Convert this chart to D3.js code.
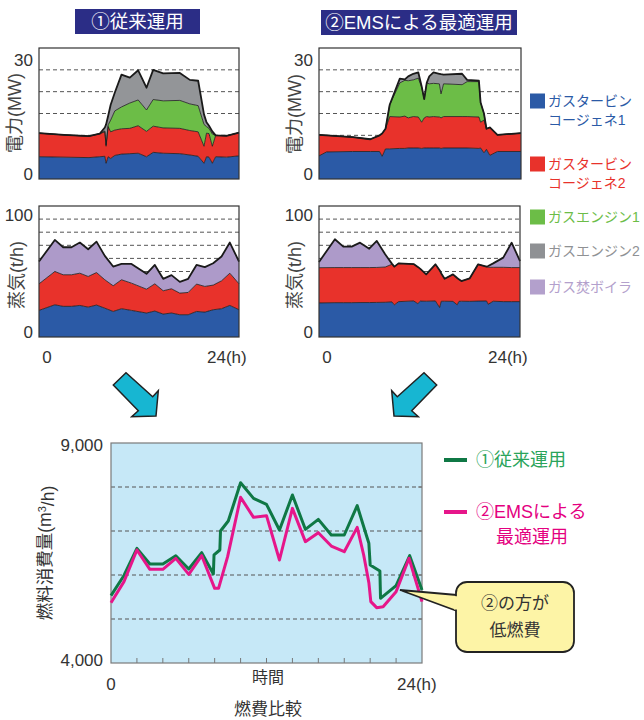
<!DOCTYPE html>
<html>
<head>
<meta charset="utf-8">
<script src="https://cdn.jsdelivr.net/npm/d3@7"></script>
<style>
  body { margin: 0; background: #fff; }
  svg { display: block; }
  text { font-family: 'Liberation Sans', 'Noto Sans CJK JP', sans-serif; }
</style>
</head>
<body>
<svg id="chart" width="644" height="720"></svg>
<script>
// ---- Power output (MW), conventional operation: layer thickness per hour point ----
const powerConvHours = [0, 3, 6, 7.3, 7.9, 8.05, 8.3, 8.6, 9.1, 9.9, 10.9, 11.9, 12.9, 13.7, 14.9, 16.9, 18.1, 19.1, 19.8, 20.1, 20.4, 20.8, 21.2, 22.5, 24];
const powerConvGT1 = [5.1, 5.0, 4.9, 5.1, 5.2, 3.6, 5.1, 4.7, 5.4, 5.7, 5.8, 5.9, 5.1, 6.1, 5.9, 5.8, 5.5, 5.2, 3.6, 5.1, 5.0, 3.6, 5.1, 5.0, 5.3];
const powerConvGT2 = [5.4, 5.1, 4.9, 5.3, 5.6, 3.9, 6.9, 6.1, 5.8, 5.8, 5.8, 6.3, 5.8, 6.0, 5.8, 5.8, 5.6, 5.6, 3.9, 5.4, 5.4, 3.9, 4.9, 4.9, 5.3];
const powerConvGE1 = [0, 0, 0, 0, 0.2, 0.3, 0.4, 2.7, 4.4, 5.0, 5.8, 5.9, 4.9, 6.1, 6.2, 6.4, 6.1, 6.0, 5.0, 1.5, 1.2, 2.8, 0, 0, 0];
const powerConvGE2 = [0, 0, 0, 0, 0.8, 4.7, 2.1, 3.5, 4.2, 7.4, 5.8, 6.8, 5.1, 6.8, 6.3, 6.3, 5.5, 5.7, 2.3, 1.0, 0.6, 0.6, 0, 0, 0];

// ---- Power output (MW), EMS optimised operation ----
const powerEmsHours = [0, 0.9, 4, 6.1, 7.2, 7.5, 7.9, 8.4, 9.6, 10.2, 10.6, 11.2, 11.8, 12.2, 12.5, 12.8, 13.1, 13.6, 14.3, 14.5, 14.8, 17.0, 17.6, 19.0, 19.2, 19.6, 19.9, 20.3, 21.2, 24];
const powerEmsGT1 = [5.3, 6.2, 6.3, 6.3, 6.3, 5.2, 6.9, 6.9, 7.0, 7.0, 7.1, 7.1, 7.1, 7.0, 7.1, 7.1, 7.1, 7.1, 7.1, 7.0, 7.1, 7.1, 7.1, 7.0, 7.1, 6.0, 6.8, 5.4, 6.3, 6.3];
const powerEmsGT2 = [4.8, 3.8, 3.3, 2.8, 3.7, 5.2, 4.6, 7.4, 7.2, 7.4, 6.9, 7.2, 7.1, 6.0, 6.9, 7.2, 7.1, 7.2, 7.1, 7.0, 7.2, 7.2, 7.2, 7.2, 5.9, 7.5, 4.7, 6.4, 3.8, 4.2];
const powerEmsGE1 = [0, 0, 0, 0, 0, 0, 0, 2.7, 7.8, 8.2, 8.5, 8.4, 8.9, 8.0, 4.3, 7.7, 7.6, 7.6, 7.6, 5.5, 7.5, 7.3, 8.0, 8.1, 4.5, 1.5, 0, 0, 0, 0];
const powerEmsGE2 = [0, 0, 0, 0, 0, 0, 0, 0, 1.0, 0.2, 1.0, 1.4, 1.3, 0.2, 0, 0, 1.7, 2.5, 2.3, 4.5, 2.1, 2.5, 0.4, 0.2, 0, 0, 0, 0, 0, 0];

// ---- Steam output (t/h), conventional operation ----
const steamConvHours = [0, 1.9, 2.9, 3.9, 4.9, 5.9, 6.9, 7.9, 8.9, 9.9, 11.1, 12.9, 13.9, 14.9, 15.9, 16.9, 17.9, 18.9, 19.9, 20.9, 21.9, 22.9, 24];
const steamConvGT1 = [20.3, 24.6, 23.4, 23.4, 24.1, 22.8, 24.4, 22.0, 19.5, 21.6, 20.3, 18.3, 19.8, 17.5, 18.3, 17.0, 17.0, 19.5, 19.0, 20.8, 21.6, 24.1, 20.8];
const steamConvGT2 = [20.3, 25.4, 24.1, 24.1, 24.6, 23.4, 24.8, 21.7, 19.6, 22.1, 20.8, 18.2, 20.8, 17.8, 18.5, 16.5, 17.0, 20.9, 19.6, 18.8, 21.3, 24.6, 19.8];
const steamConvBoiler = [17.0, 24.1, 21.0, 21.0, 23.4, 20.8, 23.6, 18.2, 14.7, 12.1, 14.7, 11.7, 14.4, 9.1, 10.4, 8.6, 10.4, 14.6, 14.7, 16.7, 18.5, 23.4, 17.0];

// ---- Steam output (t/h), EMS optimised operation ----
const steamEmsHours = [0, 1.9, 2.9, 3.9, 4.9, 6.0, 6.9, 7.9, 8.7, 9.0, 9.5, 11.3, 11.8, 12.1, 12.8, 13.9, 14.4, 14.6, 15.0, 16.0, 16.5, 16.7, 17.0, 18.0, 19.0, 20.0, 20.2, 20.8, 22.0, 23.0, 24.0];
const steamEmsGT1 = [26.0, 26.2, 26.2, 26.2, 26.3, 26.3, 26.4, 26.5, 26.8, 24.5, 27.0, 27.5, 25.5, 27.4, 27.3, 27.5, 22.5, 27.3, 27.3, 27.2, 24.5, 27.2, 27.3, 27.2, 27.4, 27.5, 25.0, 27.3, 27.0, 27.0, 27.0];
const steamEmsGT2 = [26.9, 26.8, 26.8, 26.8, 26.7, 26.7, 26.7, 26.9, 28.7, 29.2, 29.2, 28.2, 28.0, 24.6, 20.5, 28.0, 28.5, 21.2, 17.2, 20.6, 20.5, 16.8, 15.4, 17.6, 28.1, 26.2, 28.2, 25.9, 26.2, 26.0, 26.0];
const steamEmsBoiler = [4.4, 21.6, 16.0, 16.0, 19.0, 14.4, 20.2, 9.7, 0.5, 0, 0, 0, 0, 0, 0, 0, 0, 0, 0, 0, 0, 0, 0, 0, 0, 0, 1.0, 3.0, 7.4, 19.0, 5.0];

// ---- Fuel consumption (m3/h) ----
const fuelConvHours = [0, 1, 2, 3, 4, 5, 6, 7, 7.9, 7.95, 8.4, 8.45, 9.05, 10, 11, 12, 13, 14, 15, 16, 17, 18, 19, 19.7, 19.9, 20.0, 20.75, 20.8, 22, 23.05, 24];
const fuelConv = [5530, 5990, 6606, 6250, 6250, 6439, 6136, 6508, 6023, 6455, 6568, 7000, 7227, 8098, 7742, 7606, 7023, 7818, 7038, 7265, 6909, 6909, 7576, 6909, 6720, 6227, 6091, 5470, 5760, 6439, 5659];
const fuelEmsHours = [0, 1, 2, 3, 4, 5, 6, 7, 8, 8.3, 9, 10, 11, 12, 13, 14, 15, 16, 17, 18, 19, 19.5, 19.9, 20.05, 20.5, 21, 22, 23, 24];
const fuelEms = [5371, 5850, 6568, 6129, 6129, 6379, 6015, 6439, 5697, 5697, 6417, 7765, 7311, 7348, 6341, 7515, 6758, 6962, 6659, 6530, 7083, 6455, 5826, 5394, 5258, 5280, 5621, 6379, 5394];

// ---- Labels ----
const legendItems = [
  { lines: ["ガスタービン", "コージェネ1"], color: "#2b5aa6" },
  { lines: ["ガスタービン", "コージェネ2"], color: "#e8322b" },
  { lines: ["ガスエンジン1"], color: "#6cbd47" },
  { lines: ["ガスエンジン2"], color: "#8f9194" },
  { lines: ["ガス焚ボイラ"], color: "#b3a0cc" }
];
const powerTicks = [0, 30];
const steamTicks = [0, 100];
const fuelTicks = [4000, 9000];
const powerGrid = [10, 15, 20, 25];
const steamGrid = [50, 60, 70, 80, 90];
const fuelGrid = [5000, 6000, 7000, 8000];

const colGT1 = "#2b5aa6", colGT2 = "#e8322b", colGE1 = "#6cbd47", colGE2 = "#939598", colBoiler = "#ad9ac9";
const colConv = "#0f7845", colEms = "#e6168a";

const svg = d3.select("#chart");
const fmt = d3.format(",");

// Stacked area panel
function stackPanel(box, hours, series, colors, yMax, grid, ticks, title, showX) {
  const x = d3.scaleLinear().domain([0, 24]).range([box.x0, box.x1]);
  const y = d3.scaleLinear().domain([0, yMax]).range([box.y1, box.y0]);
  const keys = series.map((_, i) => "k" + i);
  const rows = hours.map((h, i) => {
    const r = { h };
    series.forEach((s, j) => r["k" + j] = s[i]);
    return r;
  });
  const stacked = d3.stack().keys(keys)(rows);
  const g = svg.append("g");

  // dashed grid behind the areas
  g.selectAll("line.grid").data(grid).join("line")
    .attr("x1", box.x0).attr("x2", box.x1)
    .attr("y1", d => y(d)).attr("y2", d => y(d))
    .attr("stroke", "#555").attr("stroke-width", 1).attr("stroke-dasharray", "4,3");

  const area = d3.area().x(d => x(d.data.h)).y0(d => y(d[0])).y1(d => y(d[1]));
  g.selectAll("path.layer").data(stacked).join("path")
    .attr("d", area).attr("fill", (d, i) => colors[i]);

  const line = d3.line().x(d => x(d.data.h)).y(d => y(d[1]));
  g.selectAll("path.edge").data(stacked).join("path")
    .attr("d", line).attr("fill", "none")
    .attr("stroke", "#1a1a1a")
    .attr("stroke-width", (d, i) => i === stacked.length - 1 ? 1.8 : 0.8)
    .attr("stroke-linejoin", "round");

  g.append("rect").attr("x", box.x0).attr("y", box.y0)
    .attr("width", box.x1 - box.x0).attr("height", box.y1 - box.y0)
    .attr("fill", "none").attr("stroke", "#333").attr("stroke-width", 1.2);

  // y tick labels
  g.selectAll("text.tick").data(ticks).join("text")
    .attr("x", box.x0 - 6)
    .attr("y", d => y(d) + (d === 0 ? -5 : yMax === 30 ? 12 : 9))
    .attr("dy", "0.35em").attr("text-anchor", "end")
    .attr("font-size", 17).attr("fill", "#333").text(d => d);

  // y title
  g.append("text")
    .attr("transform", `translate(${title.x},${title.y}) rotate(-90)`)
    .attr("text-anchor", "middle").attr("dy", "0.35em")
    .attr("font-size", 18).attr("fill", "#444").text(title.text);

  if (showX) {
    g.append("text").attr("x", x(0) + 8).attr("y", box.y1 + 20).attr("dy", "0.35em")
      .attr("text-anchor", "middle").attr("font-size", 17).attr("fill", "#333").text("0");
    g.append("text").attr("x", x(24) - 32).attr("y", box.y1 + 20).attr("dy", "0.35em")
      .attr("font-size", 17).attr("fill", "#333").text("24(h)");
  }
}

const powerColors = [colGT1, colGT2, colGE1, colGE2];
const steamColors = [colGT1, colGT2, colBoiler];

stackPanel({ x0: 39, x1: 239, y0: 48, y1: 179 }, powerConvHours,
  [powerConvGT1, powerConvGT2, powerConvGE1, powerConvGE2], powerColors, 30, powerGrid, powerTicks,
  { x: 15, y: 113, text: "電力(MW)" }, false);
stackPanel({ x0: 319, x1: 521, y0: 48, y1: 179 }, powerEmsHours,
  [powerEmsGT1, powerEmsGT2, powerEmsGE1, powerEmsGE2], powerColors, 30, powerGrid, powerTicks,
  { x: 295, y: 114, text: "電力(MW)" }, false);
stackPanel({ x0: 39, x1: 239, y0: 206, y1: 337 }, steamConvHours,
  [steamConvGT1, steamConvGT2, steamConvBoiler], steamColors, 100, steamGrid, steamTicks,
  { x: 17, y: 275, text: "蒸気(t/h)" }, true);
stackPanel({ x0: 319, x1: 520, y0: 206, y1: 337 }, steamEmsHours,
  [steamEmsGT1, steamEmsGT2, steamEmsBoiler], steamColors, 100, steamGrid, steamTicks,
  { x: 295, y: 275, text: "蒸気(t/h)" }, true);

// Title banners
[{ x: 75, w: 125, y: 9, h: 25, text: "①従来運用" },
 { x: 321, w: 196, y: 10, h: 25, text: "②EMSによる最適運用" }].forEach(b => {
  svg.append("rect").attr("x", b.x).attr("y", b.y).attr("width", b.w).attr("height", b.h).attr("fill", "#2b2d86");
  svg.append("text").attr("x", b.x + b.w / 2).attr("y", b.y + b.h / 2).attr("dy", "0.36em")
    .attr("text-anchor", "middle").attr("font-size", 18.5).attr("fill", "#fff").text(b.text);
});

// Legend for stacked panels
const legendRows = [101, 164, 217, 251, 287];
legendItems.forEach((it, i) => {
  const cy = legendRows[i];
  svg.append("rect").attr("x", 530).attr("y", cy - 7.5).attr("width", 15).attr("height", 15).attr("fill", it.color);
  it.lines.forEach((t, k) => {
    svg.append("text").attr("x", 548).attr("y", cy + k * 19).attr("dy", "0.36em")
      .attr("font-size", 14).attr("fill", it.color).text(t);
  });
});

// Down arrows
const arrowL = [[113.3, 385], [126, 372.7], [152.7, 396.7], [158.3, 390.7], [156, 416], [131.7, 416.7], [138.3, 410.7]];
const arrowR = arrowL.map(([px, py]) => [550 - px, py]);
[arrowL, arrowR].forEach(p => {
  svg.append("path").attr("d", d3.line()(p) + "Z")
    .attr("fill", "#17b6d2").attr("stroke", "#222").attr("stroke-width", 1.5).attr("stroke-linejoin", "miter");
});

// Fuel consumption panel
const fb = { x0: 111, x1: 422, y0: 443, y1: 663 };
const fx = d3.scaleLinear().domain([0, 24]).range([fb.x0, fb.x1]);
const fy = d3.scaleLinear().domain([4000, 9000]).range([fb.y1, fb.y0]);
const fg = svg.append("g");
fg.append("rect").attr("x", fb.x0).attr("y", fb.y0).attr("width", fb.x1 - fb.x0).attr("height", fb.y1 - fb.y0)
  .attr("fill", "#c6e8f7");
fg.selectAll("line.grid").data(fuelGrid).join("line")
  .attr("x1", fb.x0).attr("x2", fb.x1).attr("y1", d => fy(d)).attr("y2", d => fy(d))
  .attr("stroke", "#555").attr("stroke-width", 1).attr("stroke-dasharray", "4,3");
fg.selectAll("line.xt").data(d3.range(2, 24, 2)).join("line")
  .attr("x1", d => fx(d)).attr("x2", d => fx(d)).attr("y1", fb.y1).attr("y2", fb.y1 - 5)
  .attr("stroke", "#777").attr("stroke-width", 1);
fg.selectAll("line.yt").data(fuelGrid).join("line")
  .attr("x1", fb.x1).attr("x2", fb.x1 - 4).attr("y1", d => fy(d)).attr("y2", d => fy(d))
  .attr("stroke", "#777").attr("stroke-width", 1);
fg.append("rect").attr("x", fb.x0).attr("y", fb.y0).attr("width", fb.x1 - fb.x0).attr("height", fb.y1 - fb.y0)
  .attr("fill", "none").attr("stroke", "#7a7a7a").attr("stroke-width", 1.2);

const fline = d3.line().x(d => fx(d[0])).y(d => fy(d[1]));
fg.append("path").attr("d", fline(d3.zip(fuelConvHours, fuelConv)))
  .attr("fill", "none").attr("stroke", colConv).attr("stroke-width", 3).attr("stroke-linejoin", "round");
fg.append("path").attr("d", fline(d3.zip(fuelEmsHours, fuelEms)))
  .attr("fill", "none").attr("stroke", colEms).attr("stroke-width", 3).attr("stroke-linejoin", "round");

fg.selectAll("text.yt").data(fuelTicks).join("text")
  .attr("x", fb.x0 - 8).attr("y", d => fy(d) + (d === 9000 ? 2 : -3)).attr("dy", "0.35em")
  .attr("text-anchor", "end").attr("font-size", 17).attr("fill", "#333").text(d => fmt(d));
fg.append("text").attr("x", fx(0)).attr("y", 684).attr("dy", "0.35em").attr("text-anchor", "middle")
  .attr("font-size", 17).attr("fill", "#333").text("0");
fg.append("text").attr("x", fx(24) - 25).attr("y", 684).attr("dy", "0.35em")
  .attr("font-size", 17).attr("fill", "#333").text("24(h)");
fg.append("text").attr("x", 268).attr("y", 677).attr("dy", "0.35em").attr("text-anchor", "middle")
  .attr("font-size", 16).attr("fill", "#333").text("時間");
fg.append("text").attr("x", 268).attr("y", 709).attr("dy", "0.35em").attr("text-anchor", "middle")
  .attr("font-size", 17).attr("fill", "#333").text("燃費比較");
const yTitle = fg.append("text").attr("transform", "translate(45,553) rotate(-90)")
  .attr("text-anchor", "middle").attr("dy", "0.35em").attr("font-size", 17.5).attr("fill", "#333");
yTitle.append("tspan").text("燃料消費量(m");
yTitle.append("tspan").attr("font-size", 11).attr("dy", "-0.5em").text("3");
yTitle.append("tspan").attr("dy", "0.5em").text("/h)");

// Line legend
fg.append("line").attr("x1", 444).attr("x2", 467).attr("y1", 460).attr("y2", 460)
  .attr("stroke", colConv).attr("stroke-width", 4);
fg.append("text").attr("x", 476).attr("y", 460).attr("dy", "0.36em").attr("font-size", 18)
  .attr("fill", "#2aa45a").text("①従来運用");
fg.append("line").attr("x1", 444).attr("x2", 467).attr("y1", 512).attr("y2", 512)
  .attr("stroke", colEms).attr("stroke-width", 4);
fg.append("text").attr("x", 476).attr("y", 512).attr("dy", "0.36em").attr("font-size", 18)
  .attr("fill", "#e4007f").text("②EMSによる");
fg.append("text").attr("x", 496).attr("y", 537).attr("dy", "0.36em").attr("font-size", 18)
  .attr("fill", "#e4007f").text("最適運用");

// Callout
const cb = { x: 456, y: 582, w: 118, h: 70 };
const tail = [[cb.x + 1, 595], [400, 590], [cb.x + 1, 611]];
fg.append("path").attr("d", d3.line()(tail)).attr("fill", "#fdf4a6").attr("stroke", "#222").attr("stroke-width", 1.8);
fg.append("rect").attr("x", cb.x).attr("y", cb.y).attr("width", cb.w).attr("height", cb.h).attr("rx", 11)
  .attr("fill", "#fdf4a6").attr("stroke", "#222").attr("stroke-width", 1.8);
fg.append("path").attr("d", d3.line()([[cb.x + 3, 596.5], [cb.x - 2, 596], [cb.x - 2, 609.5], [cb.x + 3, 609.5]]) + "Z")
  .attr("fill", "#fdf4a6");
fg.append("text").attr("x", cb.x + cb.w / 2).attr("y", 603).attr("dy", "0.36em").attr("text-anchor", "middle")
  .attr("font-size", 17).attr("fill", "#333").text("②の方が");
fg.append("text").attr("x", cb.x + cb.w / 2).attr("y", 630).attr("dy", "0.36em").attr("text-anchor", "middle")
  .attr("font-size", 17).attr("fill", "#333").text("低燃費");
</script>
</body>
</html>
